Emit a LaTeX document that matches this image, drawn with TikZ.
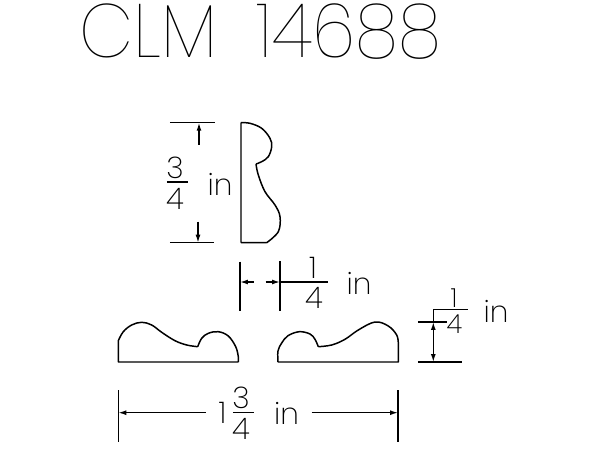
\documentclass[tikz,border=0pt]{standalone}
\usepackage{fontspec}
\setmainfont{Poppins ExtraLight}
\newfontfamily\titlefont{Poppins Thin}[WordSpace=1.9]
\usetikzlibrary{arrows.meta}
\tikzset{
  lbl/.style={inner sep=0pt,font=\fontsize{17}{17}\selectfont},
  lblsm/.style={inner sep=0pt,font=\fontsize{15}{15}\selectfont},
  dimline/.style={line width=.8pt},
  dimarrow/.style={line width=.8pt,-{Latex[length=1.6mm,width=1mm]}},
  profile/.style={line width=.85pt,line join=round}
}
\begin{document}
\begin{tikzpicture}[x=.02cm,y=-.02cm]
   \useasboundingbox (0,0) rectangle (600,450);
   \node[inner sep=0pt,font=\fontsize{43}{43}\titlefont,xscale=.93] (title) at (260.5,32) {CLM 14688};
   % side profile
   \draw[profile] (241,242.7) -- (241,122.7) plot[smooth,tension=.6] coordinates {(241,122.7) (250,123.3) (261.7,128.3) (270,138.3) (271.7,146.7) (268.3,156.7) (261.7,161.7) (256,164)}
      plot[smooth,tension=.6] coordinates {(256,164) (258.3,175) (265,191.7) (275,205) (280,216.7) (278.3,231.7) (266.7,242.7)} (266.7,242.7) -- (241,242.7);
   % left profile
   \draw[profile] (238.3,362) -- (118.3,362) -- (118.3,340.7) plot[smooth,tension=.6] coordinates {(118.3,340.7) (123.3,331.7) (131.7,325) (141.7,322.3) (151.7,325) (161.7,332.3) (175,340.7) (186.7,345) (197.7,346.7)}
      plot[smooth,tension=.6] coordinates {(197.7,346.7) (201.7,338.3) (208.3,333.3) (218.3,331.7) (228.3,336) (235.7,346.7) (238.3,356.7) (238.3,362)};
   % right profile
   \draw[profile] (278,362) -- (398.3,362) -- (398.3,343.3) plot[smooth,tension=.6] coordinates {(398.3,343.3) (396.7,335) (388.3,326) (375,322) (358.3,330) (345,339.3) (331.7,345) (318.3,346.7)}
      plot[smooth,tension=.6] coordinates {(318.3,346.7) (315,339.3) (310,334) (299.3,331.7) (288,335.7) (281.7,343) (278,351) (278,362)};
   % three quarter height
   \coordinate (ta) at (170,122.7);
   \coordinate (tb) at (215,122.7);
   \coordinate (tc) at (199,122.7);
   \coordinate (td) at (199,144.7);
   \coordinate (ba) at (170,242.7);
   \coordinate (bb) at (214,242.7);
   \coordinate (bc) at (198,242.7);
   \coordinate (bd) at (198,221.7);
   \draw[dimline] (ta) -- (tb);
   \draw[dimline] (ba) -- (bb);
   \draw[dimarrow] (td) -- (tc);
   \draw[dimarrow] (bd) -- (bc);
   \node[lbl] (n1) at (175,168) {3};
   \node[lbl] (n2) at (175,199) {4};
   \node[lbl] (n3) at (220,184) {in};
   \coordinate (fa) at (167,182);
   \coordinate (fb) at (188,182);
   \draw[dimline] (fa) -- (fb);
   % quarter width
   \coordinate (wa) at (240,261.7);
   \coordinate (wb) at (240,311);
   \coordinate (wc) at (280,261);
   \coordinate (wd) at (280,311);
   \coordinate (we) at (254,282);
   \coordinate (wf) at (240,282);
   \coordinate (wg) at (265.7,282);
   \coordinate (wh) at (280,282);
   \coordinate (wi) at (328,282);
   \draw[dimline] (wa) -- (wb);
   \draw[dimline] (wc) -- (wd);
   \draw[dimarrow] (we) -- (wf);
   \draw[dimarrow] (wg) -- (wh);
   \draw[dimline] (wh) -- (wi);
   \node[lbl] (n4) at (313,268) {1};
   \node[lbl] (n5) at (314,298) {4};
   \node[lbl] (n6) at (359,283) {in};
   % quarter depth
   \coordinate (da) at (433.3,309.3);
   \coordinate (db) at (468,309.3);
   \coordinate (dc) at (418,322);
   \coordinate (dd) at (447,322);
   \coordinate (de) at (418,362);
   \coordinate (df) at (462,362);
   \coordinate (dg) at (433.3,322);
   \coordinate (dh) at (433.3,362);
   \draw[dimline] (db) -- (da) -- (dg);
   \draw[dimline] (dc) -- (dd);
   \draw[dimline] (de) -- (df);
   \draw[dimline,{Latex[length=1.6mm,width=1mm]}-{Latex[length=1.6mm,width=1mm]}] (dg) -- (dh);
   \node[lblsm] (n7) at (454,298) {1};
   \node[lblsm] (n8) at (454.5,324.5) {4};
   \node[lbl] (n9) at (496,311) {in};
   % full width
   \coordinate (la) at (118.3,390);
   \coordinate (lb) at (118.3,441.7);
   \coordinate (lc) at (118.3,412.7);
   \coordinate (ld) at (206,412.7);
   \coordinate (ra) at (398,390);
   \coordinate (rb) at (398,441.7);
   \coordinate (rc) at (398,412.7);
   \coordinate (rd) at (311.7,412.7);
   \coordinate (ga) at (233,412.7);
   \coordinate (gb) at (254,412.7);
   \draw[dimline] (la) -- (lb);
   \draw[dimline] (ra) -- (rb);
   \draw[dimarrow] (ld) -- (lc);
   \draw[dimarrow] (rd) -- (rc);
   \draw[dimline] (ga) -- (gb);
   \node[lbl] (n10) at (222.5,413) {1};
   \node[lbl] (n11) at (241,398) {3};
   \node[lbl] (n12) at (241,429) {4};
   \node[lbl] (n13) at (286.5,413) {in};
\end{tikzpicture}
\end{document}
